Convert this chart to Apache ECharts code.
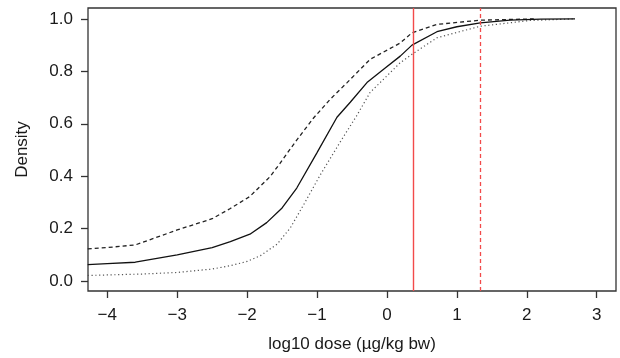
<!DOCTYPE html>
<html><head><meta charset="utf-8">
<script src="https://cdn.jsdelivr.net/npm/echarts@6/dist/echarts.min.js"></script>
<style>html,body{margin:0;padding:0;background:#fff}#c{width:620px;height:358px}</style>
</head><body><div id="c"></div>
<script>
var xTicks = [-4, -3, -2, -1, 0, 1, 2, 3];
var yTicks = [0, 0.2, 0.4, 0.6, 0.8, 1.0];
var solidX = [-4.28, -4.0, -3.6, -3.0, -2.5, -2.24, -1.96, -1.72, -1.5, -1.29, -1.0, -0.715, -0.525, -0.286, -0.048, 0.19, 0.358, 0.715, 1.0, 1.335, 1.76, 2.2, 2.69];
var solidY = [0.063, 0.067, 0.072, 0.100, 0.128, 0.151, 0.179, 0.223, 0.279, 0.355, 0.490, 0.625, 0.682, 0.757, 0.808, 0.858, 0.900, 0.951, 0.970, 0.985, 0.995, 0.999, 1.0];
var dashX = [-4.28, -4.0, -3.6, -3.0, -2.5, -2.24, -1.96, -1.67, -1.53, -1.31, -1.05, -0.81, -0.57, -0.24, 0.19, 0.358, 0.715, 1.335, 2.1];
var dashY = [0.123, 0.128, 0.138, 0.195, 0.238, 0.277, 0.323, 0.399, 0.449, 0.531, 0.622, 0.694, 0.757, 0.846, 0.908, 0.947, 0.979, 0.995, 1.0];
var dotX = [-4.28, -3.5, -3.0, -2.5, -2.24, -2.0, -1.81, -1.57, -1.38, -1.19, -0.954, -0.668, -0.43, -0.24, -0.048, 0.19, 0.358, 0.715, 1.335, 2.05, 2.69];
var dotY = [0.0215, 0.027, 0.033, 0.046, 0.059, 0.075, 0.097, 0.141, 0.204, 0.292, 0.405, 0.531, 0.632, 0.72, 0.77, 0.833, 0.865, 0.928, 0.972, 0.994, 1.0];
var refSolid = 0.367;
var refDashed = 1.335;

function zip(a, b) { return a.map(function (v, i) { return [v, b[i]]; }); }
var font = 'Liberation Sans, Arial, sans-serif';
var txt = '#1a1a1a';
var chart = echarts.init(document.getElementById('c'), null, {renderer: 'canvas'});
chart.setOption({
  animation: false,
  grid: {left: 88, top: 8, right: 4, bottom: 64, show: true, borderColor: '#333', borderWidth: 1.3, backgroundColor: 'transparent'},
  xAxis: {
    type: 'value', min: -4.276, max: 3.276,
    name: 'log10 dose (µg/kg bw)', nameLocation: 'middle', nameGap: 45,
    nameTextStyle: {fontFamily: font, fontSize: 17, color: txt},
    axisLine: {show: false, onZero: false},
    axisTick: {show: true, length: 7, inside: false, customValues: xTicks, lineStyle: {color: '#333', width: 1.3}},
    axisLabel: {customValues: xTicks, fontFamily: font, fontSize: 17, color: txt, margin: 16,
      formatter: function (v) { return v < 0 ? '\u2212' + Math.abs(v) : String(v); }},
    splitLine: {show: false}
  },
  yAxis: {
    type: 'value', min: -0.0377, max: 1.0415,
    name: 'Density', nameLocation: 'middle', nameGap: 57, nameRotate: 90,
    nameTextStyle: {fontFamily: font, fontSize: 17, color: txt},
    axisLine: {show: false, onZero: false},
    axisTick: {show: true, length: 7, inside: false, customValues: yTicks, lineStyle: {color: '#333', width: 1.3}},
    axisLabel: {customValues: yTicks, fontFamily: font, fontSize: 17, color: txt, margin: 15,
      formatter: function (v) { return v.toFixed(1); }},
    splitLine: {show: false}
  },
  series: [
    {type: 'line', data: zip(dotX, dotY), showSymbol: false, smooth: false,
      lineStyle: {color: '#555', width: 1.2, type: [1.2, 2.6]}},
    {type: 'line', data: zip(dashX, dashY), showSymbol: false, smooth: false,
      lineStyle: {color: '#222', width: 1.3, type: [4, 3]}},
    {type: 'line', data: zip(solidX, solidY), showSymbol: false, smooth: false,
      lineStyle: {color: '#111', width: 1.3},
      markLine: {silent: true, symbol: 'none', label: {show: false},
        data: [
          {xAxis: refSolid, lineStyle: {color: '#f24a4a', width: 1.4, type: 'solid', opacity: 1}},
          {xAxis: refDashed, lineStyle: {color: '#f24a4a', width: 1.3, type: [4, 3], opacity: 1}}
        ]}}
  ]
});
</script></body></html>
